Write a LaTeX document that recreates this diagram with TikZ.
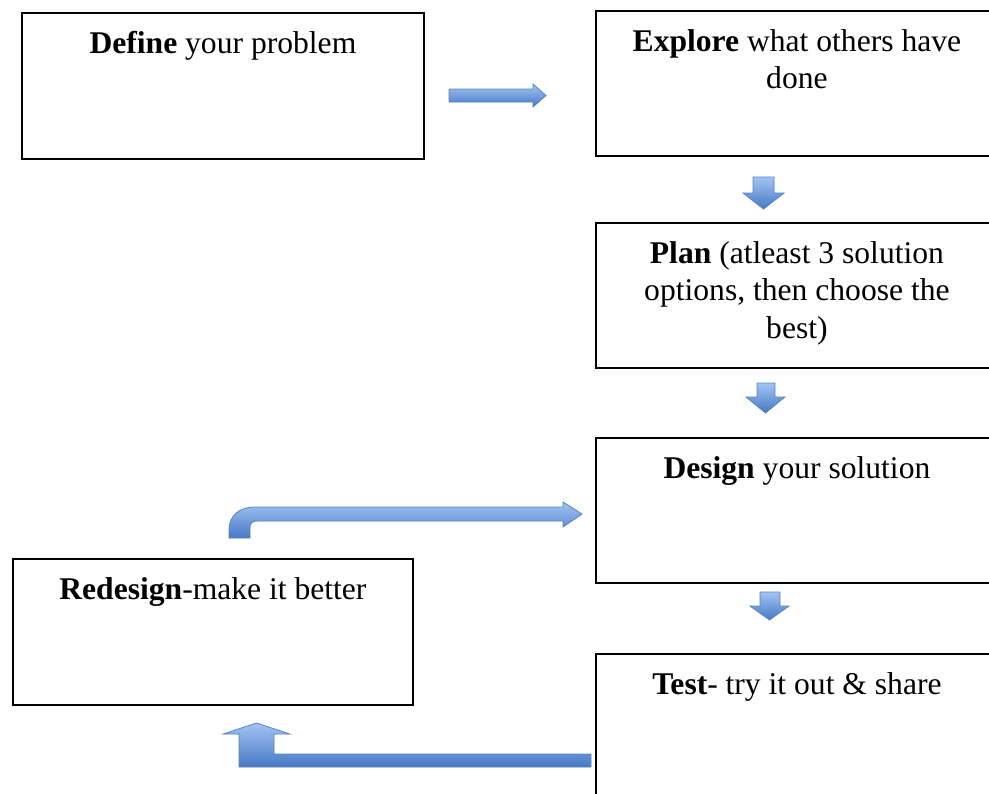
\documentclass[tikz,border=0pt]{standalone}
\usepackage{fontspec}
\setmainfont{Liberation Serif}
\usepackage{tikz}
\usetikzlibrary{positioning}
\newdimen\pxu \pxu=0.75pt
\definecolor{arrowlight}{HTML}{A3C4F3}
\definecolor{arrowdark}{HTML}{4679C4}
\definecolor{arrowline}{HTML}{5583C2}

\begin{document}
\begin{tikzpicture}[x=0.75pt,y=-0.75pt,
    procbox/.style={draw,line width=1.4pt,rectangle,anchor=north west,minimum width=402\pxu,minimum height=146\pxu,inner sep=0pt},
    proctext/.style={align=center,inner sep=0pt,font=\fontsize{23.7}{28.2}\selectfont},
    blockarrow/.style={draw=arrowline,line width=0.6pt,top color=arrowlight,bottom color=arrowdark}]
  \useasboundingbox (0,0) rectangle (989,793);
  \clip (0,0) rectangle (989,793);
  % the six steps
  \node[procbox] (define) at (21,12) {};
  \node[procbox,minimum height=145\pxu] (explore) at (595,10) {};
  \node[procbox,minimum height=145\pxu] (plan) at (595,222) {};
  \node[procbox,minimum height=145\pxu] (design) at (595,437) {};
  \node[procbox,minimum height=150\pxu] (test) at (595,653) {};
  \node[procbox,minimum width=400\pxu] (redesign) at (12,558) {};
  \node[proctext,below=19\pxu of define.north] (define text) {\textbf{Define} your problem};
  \node[proctext,below=19\pxu of explore.north] (explore text) {\textbf{Explore} what others have\\done};
  \node[proctext,below=19\pxu of plan.north] (plan text) {\textbf{Plan} (atleast 3 solution\\options, then choose the\\best)};
  \node[proctext,below=19\pxu of design.north] (design text) {\textbf{Design} your solution};
  \node[proctext,below=19\pxu of test.north] (test text) {\textbf{Test}- try it out \& share};
  \node[proctext,below=19\pxu of redesign.north] (redesign text) {\textbf{Redesign}-make it better};
  % block arrows
  \draw[blockarrow] (449,89) -- (533,89) -- (533,84) -- (546,95.5) -- (533,107) -- (533,102) -- (449,102) -- cycle;
  \draw[blockarrow] (753,177) -- (774,177) -- (774,193) -- (784,193) -- (763.5,209) -- (743,193) -- (753,193) -- cycle;
  \draw[blockarrow] (757,383) -- (775,383) -- (775,397) -- (785,397) -- (765.5,413) -- (746,397) -- (757,397) -- cycle;
  \draw[blockarrow] (760,592) -- (780,592) -- (780,606) -- (789,606) -- (769.5,620) -- (750,606) -- (760,606) -- cycle;
  \draw[blockarrow] (229,538) -- (229,530) .. controls (229,515) and (240,507) .. (255,507)
    -- (563,507) -- (563,502) -- (582,514) -- (563,527) -- (563,521) -- (258,521)
    .. controls (252,521) and (250,523) .. (250,528) -- (250,538) -- cycle;
  \draw[blockarrow] (591,754) -- (274,754) -- (274,734) -- (290,734) -- (256.5,723) -- (223,734)
    -- (239,734) -- (239,767) -- (591,767) -- cycle;
\end{tikzpicture}
\end{document}
